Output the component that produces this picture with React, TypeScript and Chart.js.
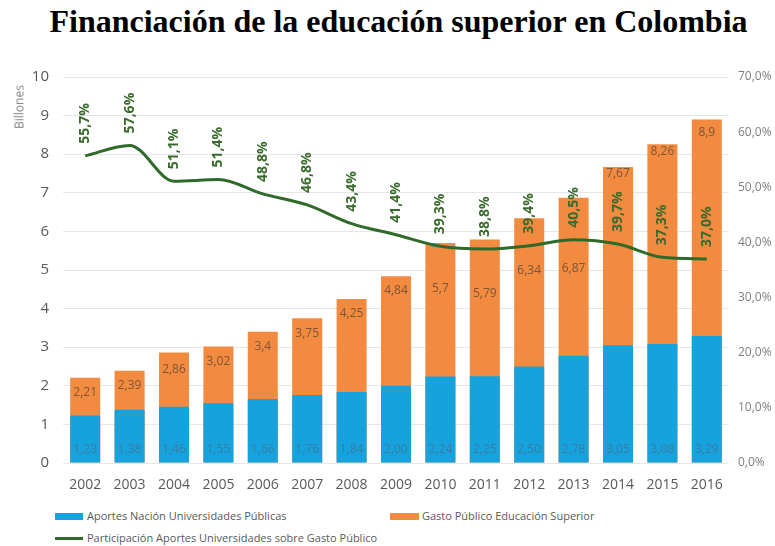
import React, { useEffect, useRef } from 'react';
import { Chart, registerables } from 'chart.js';

Chart.register(...registerables);

const years = ['2002', '2003', '2004', '2005', '2006', '2007', '2008', '2009', '2010', '2011', '2012', '2013', '2014', '2015', '2016'];
const aportes = [1.23, 1.38, 1.46, 1.55, 1.66, 1.76, 1.84, 2.0, 2.24, 2.25, 2.5, 2.78, 3.05, 3.08, 3.29];
const gasto = [2.21, 2.39, 2.86, 3.02, 3.4, 3.75, 4.25, 4.84, 5.7, 5.79, 6.34, 6.87, 7.67, 8.26, 8.9];
const participacion = [55.7, 57.6, 51.1, 51.4, 48.8, 46.8, 43.4, 41.4, 39.3, 38.8, 39.4, 40.5, 39.7, 37.3, 37.0];

const TITLE = 'Financiación de la educación superior en Colombia';
const LEFT_AXIS_TITLE = 'Billones';
const LEGEND_APORTES = 'Aportes Nación Universidades Públicas';
const LEGEND_GASTO = 'Gasto Público Educación Superior';
const LEGEND_PART = 'Participación Aportes Universidades sobre Gasto Público';

// style: how far (px) below the top of each orange bar its value label sits
const gastoLabelDrop = [15, 15, 17, 15, 15, 15, 15, 14, 46, 54, 52, 71, 7, 7, 13];

const BLUE = '#16a3dd';
const ORANGE = '#f28a3f';
const GREEN = '#2f6a2a';
const FONT = '"Open Sans", "Noto Sans", sans-serif';

const comma = (s: string) => s.replace('.', ',');

const labelPlugin = {
  id: 'valueLabels',
  afterDatasetsDraw(chart: any) {
    const ctx = chart.ctx;
    ctx.save();
    const mo = chart.getDatasetMeta(1);
    ctx.font = `12px ${FONT}`;
    ctx.textAlign = 'center';
    ctx.textBaseline = 'middle';
    ctx.fillStyle = '#7d5637';
    mo.data.forEach((el: any, i: number) => {
      ctx.fillText(comma(String(gasto[i])), el.x, el.y + gastoLabelDrop[i]);
    });
    const mb = chart.getDatasetMeta(0);
    ctx.fillStyle = '#3a7ca3';
    mb.data.forEach((el: any, i: number) => {
      ctx.fillText(comma(aportes[i].toFixed(2)), el.x, el.base - 13);
    });
    const ml = chart.getDatasetMeta(2);
    ctx.font = `bold 14px ${FONT}`;
    ctx.fillStyle = '#3a6b2c';
    ctx.textAlign = 'left';
    ml.data.forEach((el: any, i: number) => {
      ctx.save();
      ctx.translate(el.x, el.y - 12);
      ctx.rotate(-Math.PI / 2);
      ctx.fillText(comma(participacion[i].toFixed(1)) + '%', 0, 0);
      ctx.restore();
    });
    ctx.restore();
  },
};

export default function App() {
  const ref = useRef<HTMLCanvasElement>(null);

  useEffect(() => {
    if (!ref.current) return;
    const chart = new Chart(ref.current, {
      type: 'bar',
      data: {
        labels: years,
        datasets: [
          {
            type: 'bar',
            label: LEGEND_APORTES,
            data: aportes,
            backgroundColor: BLUE,
            grouped: false,
            order: 1,
            yAxisID: 'y',
            categoryPercentage: 0.8,
            barPercentage: 0.845,
          } as any,
          {
            type: 'bar',
            label: LEGEND_GASTO,
            data: gasto,
            backgroundColor: ORANGE,
            grouped: false,
            order: 2,
            yAxisID: 'y',
            categoryPercentage: 0.8,
            barPercentage: 0.845,
          } as any,
          {
            type: 'line',
            label: LEGEND_PART,
            data: participacion,
            borderColor: GREEN,
            borderWidth: 3,
            pointRadius: 0,
            cubicInterpolationMode: 'monotone',
            order: 0,
            yAxisID: 'y2',
          } as any,
        ],
      },
      options: {
        animation: false,
        responsive: false,
        maintainAspectRatio: false,
        layout: { padding: { top: 17, left: 0, right: 0, bottom: 0 } },
        plugins: {
          legend: { display: false },
          tooltip: { enabled: false },
          title: { display: false },
        },
        scales: {
          x: {
            grid: { display: false },
            border: { display: false },
            ticks: { color: '#595959', font: { family: FONT, size: 14 }, padding: 6 },
            afterFit: (s: any) => { s.height = 37; },
          },
          y: {
            position: 'left',
            min: 0,
            max: 10,
            ticks: { stepSize: 1, color: '#595959', font: { family: FONT, size: 15 }, padding: 14 },
            grid: { color: '#e6e6e6', drawTicks: false, lineWidth: 1 },
            border: { display: false },
            afterFit: (s: any) => { s.width = 63; s.paddingTop = 0; s.paddingBottom = 0; },
          },
          y2: {
            position: 'right',
            min: 0,
            max: 70,
            ticks: {
              stepSize: 10,
              color: '#7f7f7f',
              font: { family: FONT, size: 12 },
              padding: 9,
              callback: (v: any) => comma(Number(v).toFixed(1)) + '%',
            },
            grid: { display: false, drawTicks: false },
            border: { display: false },
            afterFit: (s: any) => { s.width = 46; s.paddingTop = 0; s.paddingBottom = 0; },
          },
        },
      } as any,
      plugins: [labelPlugin],
    });
    return () => chart.destroy();
  }, []);

  const legendText: React.CSSProperties = {
    position: 'absolute',
    fontFamily: FONT,
    fontSize: 11,
    color: '#595959',
    lineHeight: '16px',
    whiteSpace: 'nowrap',
  };

  return (
    <div style={{ position: 'fixed', left: 0, top: 0, width: 775, height: 546, background: '#fff', overflow: 'hidden' }}>
      <div
        style={{
          position: 'absolute',
          left: 22,
          top: 2,
          width: 753,
          textAlign: 'center',
          fontFamily: '"Liberation Serif", "Times New Roman", serif',
          fontWeight: 'bold',
          fontSize: 32,
          lineHeight: '38px',
          color: '#000',
          whiteSpace: 'nowrap',
        }}
      >
        {TITLE}
      </div>
      <canvas ref={ref} width={775} height={440} style={{ position: 'absolute', left: 0, top: 60, width: 775, height: 440 }} />
      <div
        style={{
          position: 'absolute',
          left: 19,
          top: 107,
          transform: 'translate(-50%, -50%) rotate(-90deg)',
          fontFamily: FONT,
          fontSize: 12,
          color: '#7f7f7f',
          whiteSpace: 'nowrap',
        }}
      >
        {LEFT_AXIS_TITLE}
      </div>
      <div style={{ position: 'absolute', left: 55, top: 513, width: 28, height: 7, background: BLUE }} />
      <div style={{ ...legendText, left: 87, top: 508 }}>{LEGEND_APORTES}</div>
      <div style={{ position: 'absolute', left: 390, top: 513, width: 29, height: 7, background: ORANGE }} />
      <div style={{ ...legendText, left: 422, top: 508 }}>{LEGEND_GASTO}</div>
      <div style={{ position: 'absolute', left: 55, top: 537, width: 28, height: 3, background: GREEN }} />
      <div style={{ ...legendText, left: 87, top: 530 }}>{LEGEND_PART}</div>
    </div>
  );
}
